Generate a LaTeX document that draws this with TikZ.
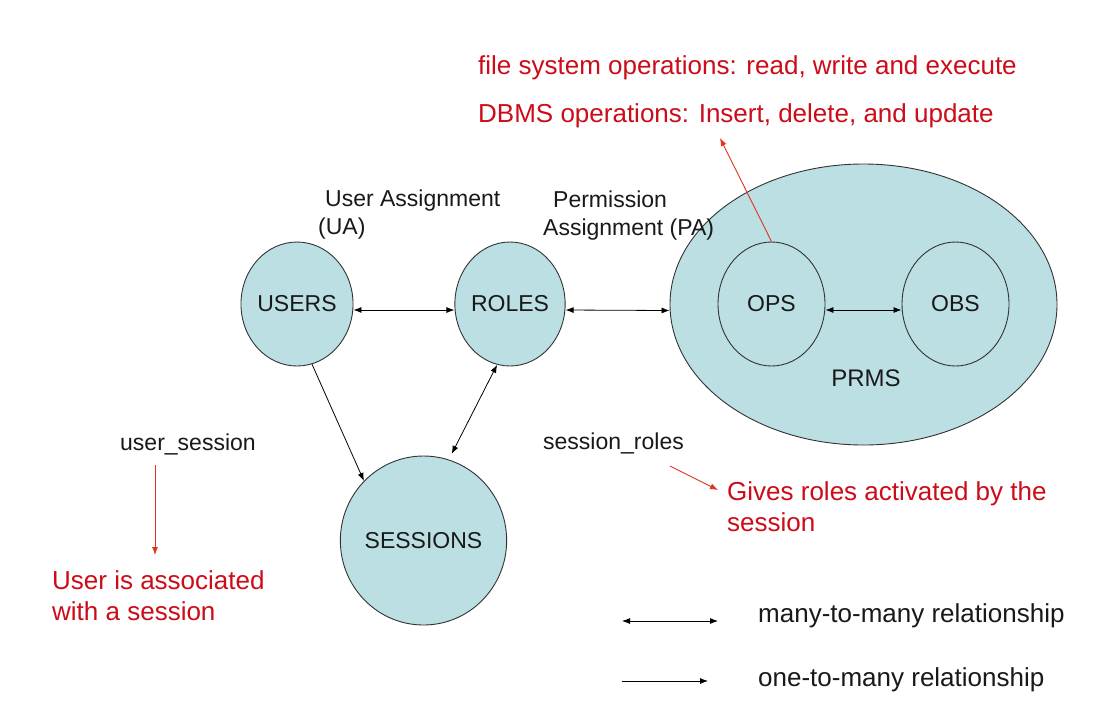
\documentclass[tikz,border=0pt]{standalone}
\usepackage{fontspec}
\setmainfont{Liberation Sans}
\usetikzlibrary{shapes.geometric,arrows.meta}
\definecolor{setfill}{RGB}{187,223,227}
\definecolor{txtred}{RGB}{204,12,24}
\definecolor{arrred}{RGB}{222,52,32}
\tikzset{
  setnode/.style={ellipse,draw=black!80,line width=0.9pt,fill=setfill,inner sep=0pt},
  blk/.style={font=\fontsize{23}{28}\selectfont,inner sep=0pt,text=black!90},
  lgd/.style={font=\fontsize{26}{31}\selectfont,inner sep=0pt,text=black!90},
  rtxt/.style={font=\fontsize{26}{31}\selectfont,inner sep=0pt,text=txtred,align=left},
  conn/.style={line width=0.8pt,black},
  tipb/.style={{Latex[length=8pt,width=6pt]}-{Latex[length=8pt,width=6pt]}},
  tipo/.style={-{Latex[length=8pt,width=6pt]}},
  rarr/.style={line width=0.9pt,draw=arrred,-{Latex[length=8pt,width=6pt]},color=arrred}
}
\begin{document}
\begin{tikzpicture}[x=1pt,y=-1pt]
\path[use as bounding box,fill=white] (0,0) rectangle (1102,724);

% sets
\node[setnode,minimum width=387pt,minimum height=281pt] (prms) at (863.5,304.5) {};
\node[setnode,minimum width=106pt,minimum height=124pt,blk] (users) at (297,304) {USERS};
\node[setnode,minimum width=106pt,minimum height=124pt,blk] (roles) at (510,304) {ROLES};
\node[setnode,minimum width=165pt,minimum height=169pt,blk] (sessions) at (423.5,540.5) {SESSIONS};
\node[setnode,minimum width=107pt,minimum height=124pt,blk] (ops) at (771.5,304) {OPS};
\node[setnode,minimum width=107pt,minimum height=124pt,blk] (obs) at (955.5,304) {OBS};
\node[blk,font=\fontsize{24}{28}\selectfont] (prmslabel) at (866,378) {PRMS};

% black labels (base anchor = baseline of last line)
\node[blk,anchor=base west,align=left] (ua) at (318,234) {\hspace{7pt}User Assignment\\(UA)};
\node[blk,anchor=base west,align=left] (pa) at (543,235) {\hspace{10pt}Permission\\Assignment (PA)};
\node[blk,anchor=base west] (usess) at (120,450) {user\_session};
\node[blk,anchor=base west] (sroles) at (543,449) {session\_roles};

% red texts
\node[rtxt,anchor=base west] (fsops) at (478,74) {file system operations: read, write and execute};
\node[rtxt,anchor=base west] (dbms) at (478,122) {DBMS operations: Insert, delete, and update};
\node[rtxt,anchor=base west] (gives) at (727,531) {Gives roles activated by the\\session};
\node[rtxt,anchor=base west] (assoc) at (52,620) {User is associated\\with a session};

% connectors
\draw[conn,tipb] ([yshift=-6pt]users.east) -- ([yshift=-6pt]roles.west);
\draw[conn,tipb] ([yshift=-6pt]roles.east) -- ([yshift=-6pt]prms.west);
\draw[conn,tipb] ([yshift=-6pt]ops.east) -- ([yshift=-6pt]obs.west);
\draw[conn,tipo] (users.-76) -- (sessions.135);
\draw[conn,tipb] (roles.-102) -- ([shift={(2pt,6pt)}]sessions.72);

% red arrows
\coordinate (dbmstip) at (720,138);
\draw[rarr] (ops.north) -- (dbmstip);
\coordinate (usfrom) at (155,465);
\coordinate (usto) at (155,555);
\draw[rarr] (usfrom) -- (usto);
\coordinate (srfrom) at (670,466);
\coordinate (srto) at (718,490);
\draw[rarr] (srfrom) -- (srto);

% legend
\coordinate (l1a) at (622,621);
\coordinate (l1b) at (718,621);
\coordinate (l2a) at (622,681);
\coordinate (l2b) at (708,681);
\draw[conn,tipb] (l1a) -- (l1b);
\draw[conn,tipo] (l2a) -- (l2b);
\node[lgd,anchor=base west] (mm) at (758,622) {many-to-many relationship};
\node[lgd,anchor=base west] (om) at (758,686) {one-to-many relationship};
\end{tikzpicture}
\end{document}
